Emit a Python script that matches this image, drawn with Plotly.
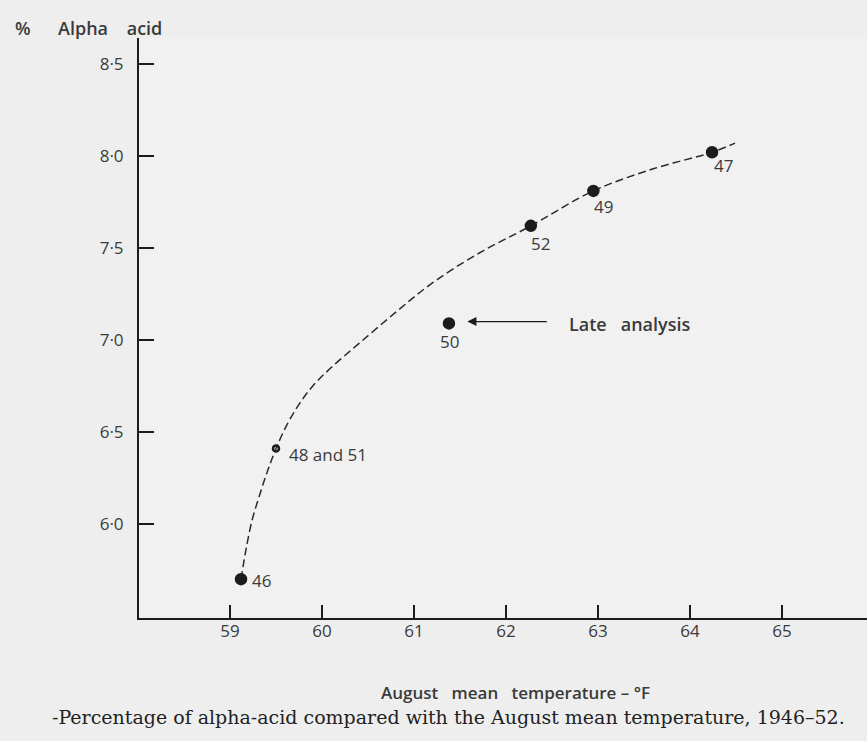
import plotly.graph_objects as go

# Observed points (August mean temperature °F, % alpha acid)
years = ["46", "48 and 51", "50", "52", "49", "47"]
temp_f = [59.12, 59.50, 61.38, 62.27, 62.95, 64.24]
alpha_pct = [5.70, 6.41, 7.09, 7.62, 7.81, 8.02]

# Hand-drawn dashed curve
curve_x = [59.12, 59.17, 59.24, 59.33, 59.41, 59.50, 59.62, 59.75, 59.90, 60.10, 60.40,
           60.80, 61.20, 61.70, 62.27, 62.95, 63.60, 64.24, 64.49]
curve_y = [5.70, 5.85, 6.02, 6.17, 6.29, 6.41, 6.54, 6.65, 6.75, 6.85, 6.98,
           7.15, 7.31, 7.47, 7.62, 7.81, 7.93, 8.02, 8.07]

x_ticks = [59, 60, 61, 62, 63, 64, 65]
y_ticks = [6.0, 6.5, 7.0, 7.5, 8.0, 8.5]
y_tick_text = ["6·0", "6·5", "7·0", "7·5", "8·0", "8·5"]

note_text = "Late   analysis"
note_arrow_from = (62.46, 7.10)
note_arrow_to = (61.58, 7.10)

FONT = "Open Sans"
INK = "#1c1c1c"
TXT = "#3a3a3a"

fig = go.Figure()
fig.add_trace(go.Scatter(
    x=curve_x, y=curve_y, mode="lines",
    line=dict(color="#2a2a2a", width=1.5, dash="8px,4px", shape="spline", smoothing=1.0),
    hoverinfo="skip", showlegend=False))

symbols = ["circle-open" if y == "48 and 51" else "circle" for y in years]
sizes = [6 if y == "48 and 51" else 10 for y in years]
fig.add_trace(go.Scatter(
    x=temp_f, y=alpha_pct, mode="markers",
    marker=dict(color=INK, size=sizes, symbol=symbols, opacity=1, line=dict(color=INK, width=2.5)),
    showlegend=False))

# label offsets (pixels) per point
offsets = {"46": (9, -1, "left"), "48 and 51": (11, -6, "left"), "50": (1, -18, "center"),
           "52": (10, -18, "center"), "49": (10, -16, "center"), "47": (11, -13, "center")}
for yr, xv, yv in zip(years, temp_f, alpha_pct):
    dx, dy, anc = offsets[yr]
    fig.add_annotation(x=xv, y=yv, text=yr, showarrow=False, xanchor=anc, yanchor="middle",
                       xshift=dx, yshift=dy, font=dict(family=FONT, size=17, color=TXT))

fig.add_annotation(x=note_arrow_to[0], y=note_arrow_to[1], ax=note_arrow_from[0], ay=note_arrow_from[1],
                   axref="x", ayref="y", text="", showarrow=True, arrowhead=2, arrowsize=1.4,
                   arrowwidth=1.3, arrowcolor=INK)
fig.add_annotation(x=note_arrow_from[0], y=note_arrow_from[1], text=note_text,
                   showarrow=False, xanchor="left", yanchor="middle", xshift=19, yshift=-2,
                   font=dict(family=FONT, size=18, color=TXT, weight=600))

# Y title at top-left
fig.add_annotation(xref="paper", yref="paper", x=-126/728, y=1 + 10/580, xanchor="left", yanchor="middle",
                   text="%", showarrow=False, font=dict(family=FONT, size=18, color=TXT, weight=600))
fig.add_annotation(xref="paper", yref="paper", x=-83/728, y=1 + 10/580, xanchor="left", yanchor="middle",
                   text="Alpha    acid", showarrow=False,
                   font=dict(family=FONT, size=18, color=TXT, weight=600))
# X title
fig.add_annotation(xref="paper", yref="paper", x=(515-139)/728, y=-74/580, xanchor="center", yanchor="middle",
                   text="August   mean   temperature – °F", showarrow=False,
                   font=dict(family=FONT, size=17, color=TXT, weight=600))
# Caption
fig.add_annotation(xref="paper", yref="paper", x=(448-139)/728, y=-99/580, xanchor="center", yanchor="middle",
                   text="-Percentage of alpha-acid compared with the August mean temperature, 1946–52.",
                   showarrow=False, font=dict(family="DejaVu Serif", size=19, color="#222"))

fig.update_layout(
    width=867, height=741,
    margin=dict(l=139, r=0, t=38, b=123),
    paper_bgcolor="#eeeeee", plot_bgcolor="#f1f1f1",
    font=dict(family=FONT, color=TXT),
    xaxis=dict(range=[58.011, 65.924], tickvals=x_ticks, ticks="inside", ticklen=13, tickwidth=1.5,
               tickcolor=INK, showline=True, linecolor=INK, linewidth=2, showgrid=False, zeroline=False,
               ticklabelstandoff=-3, tickfont=dict(family=FONT, size=17, color=TXT)),
    yaxis=dict(range=[5.489, 8.641], tickvals=y_ticks, ticktext=y_tick_text, ticks="inside", ticklen=15,
               tickwidth=1.5, tickcolor=INK, showline=True, linecolor=INK, linewidth=2, showgrid=False,
               zeroline=False, ticklabelstandoff=10, tickfont=dict(family=FONT, size=17, color=TXT)),
)

fig.write_html("out.html", config={"displayModeBar": False},
               post_script="document.body.style.margin='0';document.body.style.background='#eeeeee';")
